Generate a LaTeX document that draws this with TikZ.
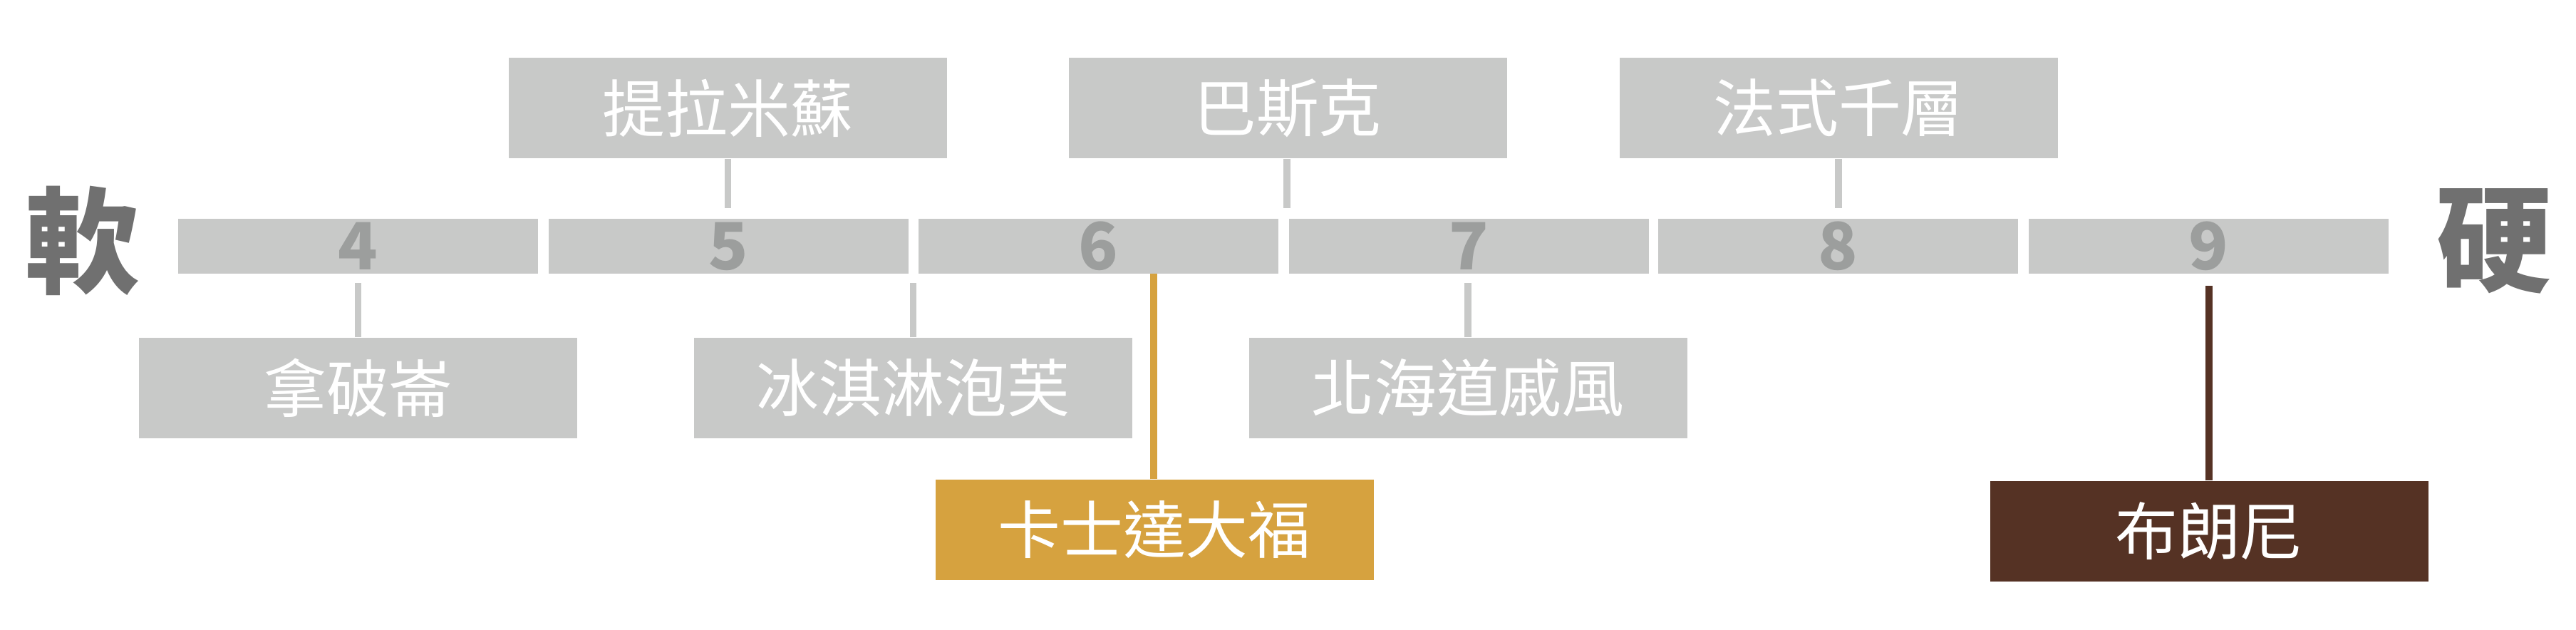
\documentclass[tikz,border=0pt]{standalone}
\usepackage{fontspec}
\setmainfont{Noto Sans CJK TC}
\usetikzlibrary{positioning}
\definecolor{pale}{HTML}{C8C9C8}
\definecolor{digit}{HTML}{9C9E9D}
\definecolor{slate}{HTML}{707070}
\definecolor{custard}{HTML}{D6A23F}
\definecolor{cocoa}{HTML}{553224}

\begin{document}
\begin{tikzpicture}[x=1cm,y=1cm]
	\tikzstyle{scale box}=[fill=pale,minimum width=5.05cm,minimum height=0.77cm,inner sep=0pt,text=digit,font=\fontsize{26}{26}\selectfont\bfseries]
	\tikzstyle{cake box}=[fill=pale,minimum width=6.15cm,minimum height=1.41cm,inner sep=0pt,text=white,font=\fontsize{25}{25}\selectfont]
	\tikzstyle{link}=[pale,line width=2.6pt]
	\useasboundingbox (0,0) rectangle (36.15,-8.83);

	% Hardness scale.
	\node (s4) at (5.025,-3.455) [scale box] {4};
	\node (s5) at (10.22,-3.455) [scale box] {5};
	\node (s6) at (15.415,-3.455) [scale box] {6};
	\node (s7) at (20.61,-3.455) [scale box] {7};
	\node (s8) at (25.795,-3.455) [scale box] {8};
	\node (s9) at (30.995,-3.455) [scale box] {9};
	\node (soft) at (1.15,-3.38) [text=slate,font=\fontsize{46}{46}\selectfont\bfseries] {軟};
	\node (hard) at (35.0,-3.38) [text=slate,font=\fontsize{46}{46}\selectfont\bfseries] {硬};

	% Cakes above and below.
	\node (tira) at (10.215,-1.515) [cake box] {提拉米蘇};
	\node (basq) at (18.07,-1.515) [cake box] {巴斯克};
	\node (mille) at (25.8,-1.515) [cake box] {法式千層};
	\node (napo) at (5.025,-5.445) [cake box] {拿破崙};
	\node (puff) at (12.815,-5.445) [cake box] {冰淇淋泡芙};
	\node (chiff) at (20.6,-5.445) [cake box] {北海道戚風};
	\node (daifuku) at (16.2,-7.435) [cake box,fill=custard] {卡士達大福};
	\node (brownie) at (31.0,-7.455) [cake box,fill=cocoa] {布朗尼};

	% Connectors stop short of the scale.
	\coordinate (t1) at (10.215,-2.92);
	\coordinate (t2) at (18.06,-2.92);
	\coordinate (t3) at (25.8,-2.92);
	\coordinate (b1) at (5.025,-3.97);
	\coordinate (b2) at (12.815,-3.97);
	\coordinate (b3) at (20.6,-3.97);
	\coordinate (b4) at (31.0,-4.01);
	\coordinate (o1) at (16.19,-3.84);
	\draw [link] (tira.south) -- (t1);
	\draw [link] (basq.south -| t2) -- (t2);
	\draw [link] (mille.south) -- (t3);
	\draw [link] (napo.north) -- (b1);
	\draw [link] (puff.north) -- (b2);
	\draw [link] (chiff.north) -- (b3);
	\draw [custard,line width=2.8pt] (daifuku.north -| o1) -- (o1);
	\draw [cocoa,line width=2.8pt] (brownie.north) -- (b4);
\end{tikzpicture}
\end{document}
